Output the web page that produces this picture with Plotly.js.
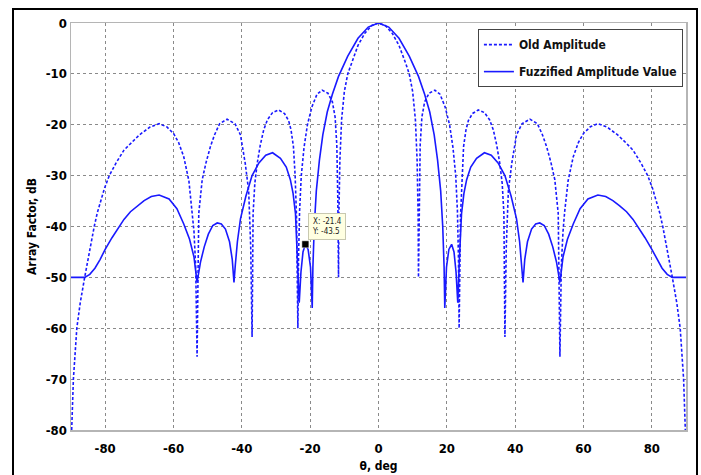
<!DOCTYPE html>
<html>
<head>
<meta charset="utf-8">
<script src="https://cdn.plot.ly/plotly-3.0.1.min.js"></script>
<style>
  html, body { margin: 0; padding: 0; background: #fff; }
  #wrap { position: relative; width: 701px; height: 475px; overflow: hidden; }
  #chart { position: absolute; left: 0; top: 0; width: 701px; height: 475px; }
  #frame { position: absolute; left: 12px; top: 8px; width: 682px; height: 480px; border: 2.5px solid #000; pointer-events: none; }
</style>
</head>
<body>
<div id="wrap">
  <div id="chart"></div>
  <div id="frame"></div>
</div>
<script>
// ---- Data ----
var seriesNames = ['Old Amplitude', 'Fuzzified Amplitude Value'];

var thetaOld = [
  -89.8, -89.3, -88.3, -87.3, -86, -84.7, -83.2, -82.3, -81.3, -80.2, -78.8, -76.8, -74.5, -72.5, -70, -67, -64.2, -62, -60, -58.5, -57, -55.5, -54.5, -54, -53.5, -53.1,
  -52.6, -51.6, -50.5, -49.2, -48, -46.5, -44.3, -42, -40.4, -39, -38, -37.4, -37,
  -36.7, -36.2, -35.5, -34.6, -33.6, -32.5, -31, -29.2, -27.5, -26.3, -25.6, -24.9, -24.4, -24, -23.6,
  -23.4, -23.1, -22.6, -21.8, -20.8, -19.5, -18, -16.5, -14.8, -13.5, -12.7, -12.2, -11.9, -11.7,
  -11.6, -11.3, -10.8, -10, -9, -8, -6, -4, -2, 0,
  2, 4, 6, 8, 9, 10, 10.8, 11.3, 11.6, 11.7,
  11.9, 12.2, 12.7, 13.5, 14.8, 16.5, 18, 19.5, 20.8, 21.8, 22.6, 23.1, 23.4, 23.6,
  24, 24.4, 24.9, 25.6, 26.3, 27.5, 29.2, 31, 32.5, 33.6, 34.6, 35.5, 36.2, 36.7, 37,
  37.4, 38, 39, 40.4, 42, 44.3, 46.5, 48, 49.2, 50.5, 51.6, 52.6, 53.1,
  53.5, 54, 54.5, 55.5, 57, 58.5, 60, 62, 64.2, 67, 70, 72.5, 74.5, 76.8, 78.8, 80.2, 81.3, 82.3, 83.2, 84.7, 86, 87.3, 88.3, 89.3, 89.8
];
var afOld = [
  -80, -70, -60, -55, -50, -45, -40, -37.3, -34.8, -32.5, -30, -27.5, -25, -23.6, -22, -20.5, -19.8, -20.4, -21.7, -23.5, -26.3, -31, -37, -41, -48, -65.6,
  -37.4, -30.8, -27.5, -24.3, -22, -19.8, -18.9, -19.8, -22, -27.6, -33, -44, -61.7,
  -37.4, -31.5, -27.6, -24, -21, -19, -17.6, -17.1, -17.8, -19.2, -21, -24.3, -30, -38, -60,
  -46, -37, -30, -24.5, -20, -16.5, -14, -13.2, -13.8, -15.5, -18.5, -24, -35, -50,
  -38, -27, -19, -13.5, -10, -8, -4.4, -2, -0.5, 0,
  -0.5, -2, -4.4, -8, -10, -13.5, -19, -27, -38, -50,
  -35, -24, -18.5, -15.5, -13.8, -13.2, -14, -16.5, -20, -24.5, -30, -37, -46, -60,
  -38, -30, -24.3, -21, -19.2, -17.8, -17.1, -17.6, -19, -21, -24, -27.6, -31.5, -37.4, -61.7,
  -44, -33, -27.6, -22, -19.8, -18.9, -19.8, -22, -24.3, -27.5, -30.8, -37.4, -65.6,
  -48, -41, -37, -31, -26.3, -23.5, -21.7, -20.4, -19.8, -20.5, -22, -23.6, -25, -27.5, -30, -32.5, -34.8, -37.3, -40, -45, -50, -55, -60, -70, -80
];

var thetaFuzzy = [
  -90, -86, -84.5, -83, -81.5, -80, -78, -75.9, -74.5, -72.6, -70.5, -68.6, -66.5, -64.2, -61.3, -59, -57, -55.3, -54, -53.1,
  -52.1, -51, -49.8, -48.5, -47.2, -46, -44.8, -43.6, -42.8, -42.3,
  -41.9, -41.3, -40.4, -38.8, -37, -35, -33, -31, -28.7, -27, -25.8, -25, -24.3, -23.7, -23.2,
  -22.7, -22.1, -21.4, -20.6, -19.9, -19.4,
  -19.2, -18.8, -18.2, -17.3, -16.3, -15, -13.5, -11.7, -9, -6, -3, 0,
  3, 6, 9, 11.7, 13.5, 15, 16.3, 17.3, 18.2, 18.8, 19.2, 19.4,
  19.9, 20.6, 21.4, 22.1, 22.7, 23.2,
  23.7, 24.3, 25, 25.8, 27, 28.7, 31, 33, 35, 37, 38.8, 40.4, 41.3, 41.9, 42.3,
  42.8, 43.6, 44.8, 46, 47.2, 48.5, 49.8, 51, 52.1, 53.1,
  54, 55.3, 57, 59, 61.3, 64.2, 66.5, 68.6, 70.5, 72.6, 74.5, 75.9, 78, 80, 81.5, 83, 84.5, 86, 90
];
var afFuzzy = [
  -50, -50, -49.4, -48.2, -46.5, -44.5, -42.2, -40, -38.6, -37.1, -35.9, -34.9, -34.1, -33.8, -34.6, -36.5, -39.5, -42.5, -46, -51,
  -47, -44, -41.5, -39.8, -39.3, -39.5, -40.5, -43, -46.5, -51,
  -47.5, -43, -38.5, -34, -30, -27.5, -26, -25.5, -26.6, -28.3, -30.8, -33.5, -37.5, -46, -55,
  -49, -45, -43.5, -44.5, -48, -56,
  -48, -40, -33, -27, -22, -17.5, -14, -10.5, -6.5, -3, -0.8, 0,
  -0.8, -3, -6.5, -10.5, -14, -17.5, -22, -27, -33, -40, -48, -56,
  -48, -44.5, -43.5, -45, -49, -55,
  -46, -37.5, -33.5, -30.8, -28.3, -26.6, -25.5, -26, -27.5, -30, -34, -38.5, -43, -47.5, -51,
  -46.5, -43, -40.5, -39.5, -39.3, -39.8, -41.5, -44, -47, -51,
  -46, -42.5, -39.5, -36.5, -34.6, -33.8, -34.1, -34.9, -35.9, -37.1, -38.6, -40, -42.2, -44.5, -46.5, -48.2, -49.4, -50, -50
];

var tipX = [-21.4];
var tipY = [-43.5];

var xTicks = [-80, -60, -40, -20, 0, 20, 40, 60, 80];
var yTicks = [0, -10, -20, -30, -40, -50, -60, -70, -80];

// ---- Chart ----
var FONT = '"Liberation Sans Narrow", "DejaVu Sans Condensed", "Arial Narrow", sans-serif';
var BLUE = 'rgb(25,25,255)';

var traces = [
  {
    x: thetaOld, y: afOld, type: 'scatter', mode: 'lines', name: seriesNames[0],
    legendgroup: 'a',
    line: { color: BLUE, width: 1.6, dash: '3px,2px' }
  },
  {
    x: thetaFuzzy, y: afFuzzy, type: 'scatter', mode: 'lines', name: seriesNames[1],
    legendgroup: 'b',
    line: { color: BLUE, width: 1.6 }
  },
  {
    x: tipX, y: tipY, type: 'scatter', mode: 'markers', showlegend: false, hoverinfo: 'skip',
    marker: { symbol: 'square', size: 7, color: '#000', line: { color: '#fff', width: 0.5 } }
  }
];

var layout = {
  width: 701, height: 475,
  margin: { l: 71, r: 15, t: 23, b: 45 },
  paper_bgcolor: '#fff', plot_bgcolor: '#fff',
  font: { family: FONT, size: 12, color: '#000', weight: 'bold' },
  showlegend: true,
  legend: {
    x: 0.995, y: 0.985, xanchor: 'right', yanchor: 'top',
    bgcolor: '#fff', bordercolor: '#444', borderwidth: 1,
    font: { family: FONT, size: 12, color: '#111', weight: 'bold' },
    traceorder: 'grouped', tracegroupgap: 8
  },
  xaxis: {
    range: [-90, 90], tickvals: xTicks, ticktext: xTicks.map(String),
    showgrid: true, gridcolor: '#8a8a8a', griddash: 'dot', gridwidth: 1,
    zeroline: false, showline: true, mirror: true, linecolor: '#b5b5b5', linewidth: 1.5,
    ticks: '', ticklabelstandoff: 6, tickfont: { family: FONT, size: 13, weight: 'bold' },
    title: { text: 'θ, deg', font: { family: FONT, size: 12, weight: 'bold' }, standoff: 6 }
  },
  yaxis: {
    range: [-80, 0], tickvals: yTicks, ticktext: yTicks.map(String),
    showgrid: true, gridcolor: '#8a8a8a', griddash: 'dot', gridwidth: 1,
    zeroline: false, showline: true, mirror: true, linecolor: '#b5b5b5', linewidth: 1.5,
    ticks: '', tickfont: { family: FONT, size: 13, weight: 'bold' },
    title: { text: 'Array Factor, dB', font: { family: FONT, size: 12, weight: 'bold' }, standoff: 6 }
  },
  annotations: [
    {
      x: tipX[0], y: tipY[0], xref: 'x', yref: 'y',
      text: 'X: ' + tipX[0] + '<br>Y: ' + tipY[0],
      showarrow: false, xanchor: 'left', yanchor: 'bottom', xshift: 3, yshift: 4,
      align: 'left', bgcolor: '#ffffe1', bordercolor: '#c8c8b0', borderwidth: 1, borderpad: 3,
      font: { family: FONT, size: 8, color: '#222', weight: 'normal' }
    }
  ]
};

Plotly.newPlot('chart', traces, layout, { displayModeBar: false, staticPlot: true });
</script>
</body>
</html>
